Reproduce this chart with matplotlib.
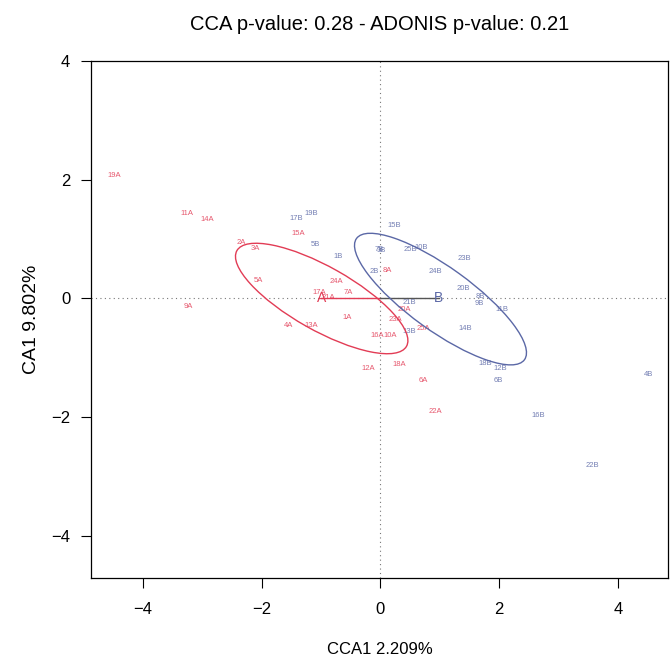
import matplotlib.pyplot as plt
import numpy as np
from matplotlib.patches import Ellipse

# site scores
a_labels = [f"{i}A" for i in range(1, 26)]
a_x = [-0.56, -2.34, -2.10, -1.55, -2.05, 0.72, -0.54, 0.11, -3.24, 0.16, -3.26, -0.21, -1.16,
       -2.92, -1.39, -0.06, -1.03, 0.32, -4.49, 0.40, -0.88, 0.93, 0.25, -0.74, 0.73]
a_y = [-0.32, 0.94, 0.84, -0.45, 0.30, -1.39, 0.10, 0.48, -0.13, -0.62, 1.44, -1.18, -0.46,
       1.33, 1.10, -0.62, 0.10, -1.11, 2.07, -0.18, 0.02, -1.91, -0.35, 0.28, -0.50]

b_labels = [f"{i}B" for i in range(1, 26)]
b_x = [-0.71, -0.10, 0.01, 4.52, -1.10, 1.98, -0.02, 1.68, 1.66, 0.69, 2.05, 2.02, 0.48,
       1.42, 0.23, 2.66, -1.42, 1.76, -1.16, 1.39, 0.48, 3.57, 1.41, 0.93, 0.51]
b_y = [0.71, 0.46, 0.81, -1.29, 0.91, -1.39, 0.82, 0.03, -0.08, 0.86, -0.18, -1.18, -0.55,
       -0.51, 1.24, -1.97, 1.35, -1.10, 1.44, 0.17, -0.06, -2.82, 0.68, 0.45, 0.82]

# group centroids and ellipses (centre x, centre y, semi-major, semi-minor, angle)
centroids = {"A": (-1.00, 0.0), "B": (0.98, 0.0)}
ellipses = {"A": (-0.99, 0.0, 1.64, 0.535, -29.5), "B": (1.01, -0.01, 1.745, 0.533, -35.9)}

red = "#e23c55"
blue = "#5b68a6"

plt.rcParams['font.family'] = ['Liberation Sans', 'DejaVu Sans']

fig = plt.figure(figsize=(6.70, 6.56), dpi=100)
ax = fig.add_axes([0.1358, 0.1189, 0.8612, 0.7881])

ax.axhline(0, color="#777777", linestyle=(0, (1, 3)), linewidth=0.8, zorder=1)
ax.axvline(0, color="#777777", linestyle=(0, (1, 3)), linewidth=0.8, zorder=1)

for lab, x, y in zip(a_labels, a_x, a_y):
    ax.text(x, y, lab, color=red, fontsize=5.5, ha="center", va="center", alpha=0.85)
for lab, x, y in zip(b_labels, b_x, b_y):
    ax.text(x, y, lab, color=blue, fontsize=5.5, ha="center", va="center", alpha=0.85)

# segment joining the two centroids through the origin
ax.plot([centroids["A"][0], 0], [0, 0], color=red, linewidth=1.0, zorder=2)
ax.plot([0, centroids["B"][0]], [0, 0], color="#555555", linewidth=1.0, zorder=2)

colors = {"A": red, "B": blue}
for g, (cx, cy, a, b, ang) in ellipses.items():
    ax.add_patch(Ellipse((cx, cy), 2 * a, 2 * b, angle=ang, fill=False,
                         edgecolor=colors[g], linewidth=1.0, zorder=3))
    ax.text(centroids[g][0], centroids[g][1], g, color=colors[g], fontsize=10,
            ha="center", va="center", zorder=4)

ax.set_xlim(-4.874, 4.84)
ax.set_ylim(-4.717, 4.008)
ax.set_xticks([-4, -2, 0, 2, 4])
ax.set_yticks([-4, -2, 0, 2, 4])
ax.set_xticklabels(["\u22124", "\u22122", "0", "2", "4"])
ax.set_yticklabels(["\u22124", "\u22122", "0", "2", "4"])
ax.tick_params(axis="x", direction="out", length=7, width=0.8, labelsize=12, pad=10)
ax.tick_params(axis="y", direction="out", length=7, width=0.8, labelsize=12, pad=8)
for s in ax.spines.values():
    s.set_linewidth(0.9)

ax.set_xlabel("CCA1 2.209%", fontsize=12, labelpad=18)
ax.set_ylabel("CA1 9.802%", fontsize=14, labelpad=8)
ax.set_title("CCA p-value: 0.28 - ADONIS p-value: 0.21", fontsize=14.5, pad=22)

fig.savefig("out.png", dpi=100)
